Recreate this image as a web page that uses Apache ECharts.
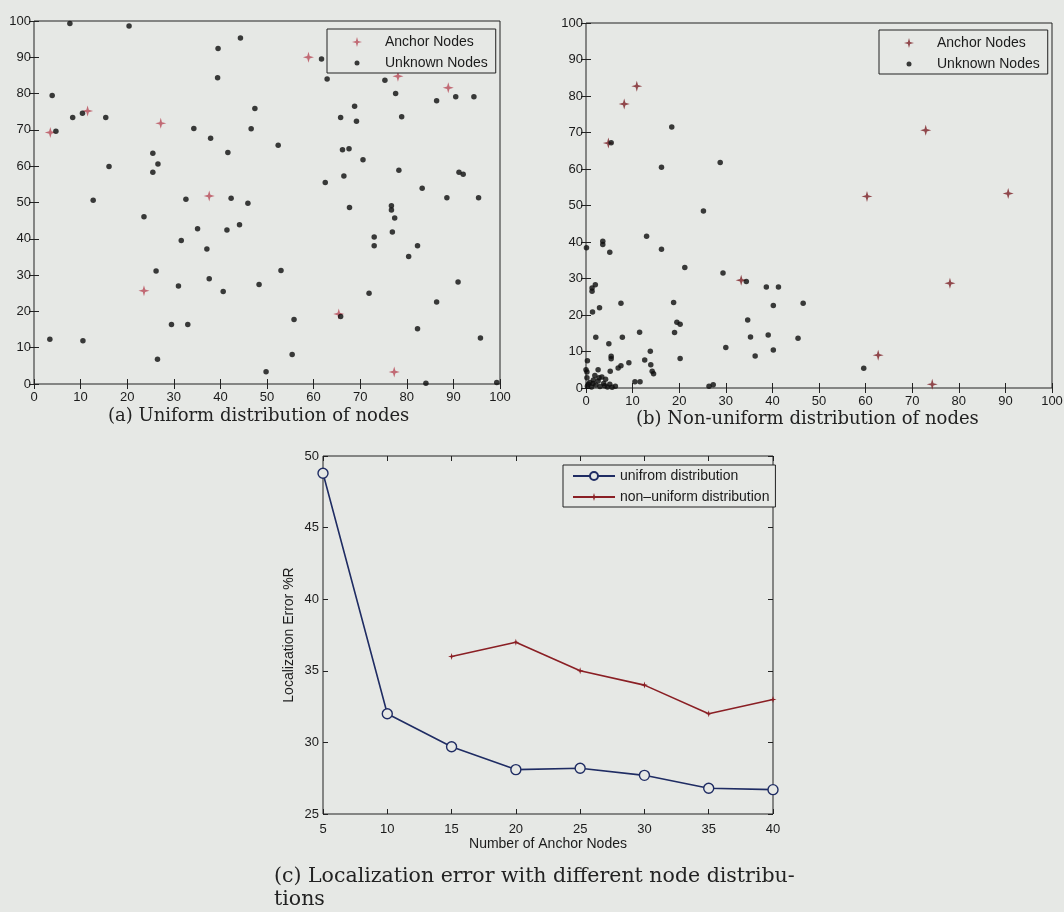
<!DOCTYPE html>
<html>
<head>
<meta charset="utf-8">
<script src="https://cdn.jsdelivr.net/npm/echarts@6/dist/echarts.min.js"></script>
<style>
    html, body { margin: 0; padding: 0; background: #e6e8e5; }
    #chart { width: 1064px; height: 912px; }
</style>
</head>
<body>
<div id="chart"></div>
<script>
    // (a) uniform distribution, [x, y]
    const uniformAnchors = [
        [3.5, 69.3], [11.5, 75.2], [27.2, 71.8], [37.6, 51.8], [23.6, 25.7],
        [58.9, 90.0], [78.1, 84.8], [88.9, 81.6], [65.4, 19.3], [77.3, 3.3]
    ];
    const uniformUnknown = [
        [7.7, 99.3], [20.4, 98.6], [44.3, 95.3], [39.5, 92.4], [39.4, 84.4], [3.9, 79.5],
        [47.4, 75.9], [10.4, 74.6], [8.3, 73.4], [15.4, 73.4], [34.3, 70.4], [46.6, 70.3],
        [4.7, 69.6], [37.9, 67.7], [25.5, 63.6], [41.6, 63.8], [26.6, 60.6], [16.1, 59.9],
        [25.5, 58.3], [12.7, 50.6], [32.6, 50.9], [42.3, 51.2], [45.9, 49.8], [61.7, 89.5],
        [62.9, 84.0], [75.3, 83.7], [77.6, 80.0], [86.4, 78.0], [90.5, 79.1], [94.4, 79.1],
        [68.8, 76.5], [65.8, 73.4], [69.2, 72.4], [78.9, 73.6], [52.4, 65.8], [66.2, 64.5],
        [67.6, 64.8], [70.6, 61.8], [78.3, 58.9], [66.5, 57.3], [62.5, 55.5], [91.2, 58.3],
        [92.1, 57.8], [83.3, 53.9], [88.6, 51.3], [95.4, 51.3], [67.7, 48.6], [76.7, 49.1],
        [76.7, 47.9], [77.4, 45.7], [76.9, 41.9], [73.0, 40.5], [73.0, 38.1], [82.3, 38.1],
        [80.4, 35.1], [53.0, 31.3], [91.0, 28.1], [71.9, 25.0], [86.4, 22.6], [65.8, 18.6],
        [55.8, 17.8], [82.3, 15.2], [95.8, 12.7], [55.4, 8.1], [49.8, 3.4], [84.1, 0.2],
        [99.3, 0.4], [48.3, 27.4], [23.6, 46.1], [35.1, 42.8], [41.4, 42.4], [44.1, 43.9],
        [31.6, 39.5], [37.1, 37.2], [26.2, 31.1], [37.6, 29.0], [31.0, 27.0], [40.6, 25.5],
        [29.5, 16.4], [33.0, 16.4], [3.4, 12.3], [10.5, 11.9], [26.5, 6.8]
    ];

    // (b) non-uniform distribution, [x, y]
    const nonUniformAnchors = [
        [4.8, 67.1], [8.2, 77.8], [10.9, 82.7], [72.9, 70.6], [60.3, 52.5],
        [90.6, 53.3], [33.3, 29.5], [78.1, 28.7], [62.7, 9.0], [74.3, 1.0]
    ];
    const nonUniformUnknown = [
        [5.4, 67.2], [18.4, 71.5], [16.2, 60.5], [28.8, 61.8], [25.2, 48.5],
        [0.1, 38.4], [3.6, 40.2], [3.6, 39.3], [5.1, 37.2], [13.0, 41.6], [16.2, 38.0],
        [21.2, 33.0], [29.4, 31.5], [34.4, 29.2], [38.7, 27.7], [41.3, 27.7],
        [2.0, 28.3], [1.3, 27.4], [1.3, 26.5], [2.9, 22.0], [1.4, 20.8], [7.5, 23.2],
        [18.8, 23.4], [46.6, 23.2], [40.2, 22.6], [19.5, 18.0], [20.2, 17.5], [34.7, 18.6],
        [19.0, 15.2], [11.5, 15.3], [2.1, 13.9], [7.8, 13.9], [35.3, 14.0], [39.1, 14.5],
        [45.5, 13.6], [4.9, 12.1], [13.8, 10.1], [30.0, 11.1], [40.2, 10.4], [5.4, 8.7],
        [5.4, 8.0], [20.2, 8.1], [36.3, 8.8], [0.3, 7.5], [12.6, 7.7], [13.9, 6.4],
        [14.2, 4.6], [14.5, 3.9], [9.2, 6.9], [7.5, 6.1], [6.9, 5.5], [5.2, 4.6],
        [2.6, 5.0], [0.0, 5.0], [0.2, 4.4], [59.6, 5.4], [10.5, 1.7], [11.6, 1.7],
        [26.4, 0.5], [27.3, 0.9],
        [0.3, 0.5], [0.8, 1.5], [1.2, 0.3], [1.6, 2.2], [2.1, 0.8], [2.6, 1.9],
        [3.0, 0.4], [3.4, 3.0], [3.8, 1.2], [4.2, 2.4], [4.6, 0.3], [5.1, 1.0],
        [5.6, 0.2], [0.2, 2.8], [1.9, 3.4], [6.3, 0.5], [2.8, 2.8], [4.0, 0.6],
        [0.5, 1.0], [1.5, 1.2]
    ];

    // (c) localization error
    const anchorCounts = [5, 10, 15, 20, 25, 30, 35, 40];
    const errUniform = [48.8, 32.0, 29.7, 28.1, 28.2, 27.7, 26.8, 26.7];
    const nonUniformCounts = [15, 20, 25, 30, 35, 40];
    const errNonUniform = [36.0, 37.0, 35.0, 34.0, 32.0, 33.0];

    const BG = '#e6e8e5';
    const INK = '#1b1b1b';
    const STAR = 'path://M0,-10L2.2,-2.2L10,0L2.2,2.2L0,10L-2.2,2.2L-10,0L-2.2,-2.2Z';
    // same shapes padded with move-tos so the legend draws them small
    const STAR_ICON = 'path://M-14,-14M14,14M0,-10L2.2,-2.2L10,0L2.2,2.2L0,10L-2.2,2.2L-10,0L-2.2,-2.2Z';
    const DOT_ICON = 'path://M-7,-7M7,7M0,-2.5A2.5,2.5,0,1,1,0,2.5A2.5,2.5,0,1,1,0,-2.5Z';

    function axis (grid, pos, min, max, step, showLabel, margin) {
        return {
            type: 'value',
            gridIndex: grid,
            position: pos,
            min: min,
            max: max,
            interval: step,
            axisLine: { show: false },
            splitLine: { show: false },
            axisTick: { show: true, inside: true, length: 5, lineStyle: { color: '#222', width: 1 } },
            axisLabel: {
                show: showLabel,
                margin: margin,
                color: INK,
                fontFamily: 'Liberation Sans',
                fontSize: 13
            }
        };
    }

    function gridBox (left, top, width, height) {
        return {
            left: left, top: top, width: width, height: height,
            containLabel: false,
            outerBoundsMode: 'none',
            show: true,
            backgroundColor: 'transparent',
            borderColor: '#222',
            borderWidth: 1
        };
    }

    function nodeLegend (left, top, names) {
        return {
            orient: 'vertical',
            left: left,
            top: top,
            padding: [6, 8, 3, 23],
            itemWidth: 46,
            itemHeight: 14,
            itemGap: 7,
            borderColor: '#222',
            borderWidth: 1,
            borderRadius: 0,
            backgroundColor: BG,
            textStyle: { color: INK, fontFamily: 'Liberation Sans', fontSize: 14 },
            formatter: function (n) { return n.replace(' (b)', ''); },
            data: [
                { name: names[0], icon: STAR_ICON },
                { name: names[1], icon: DOT_ICON }
            ]
        };
    }

    const chart = echarts.init(document.getElementById('chart'));

    const option = {
        backgroundColor: BG,
        animation: false,
        grid: [
            gridBox(34, 21, 466, 363),
            gridBox(586, 23, 466, 365),
            gridBox(323, 456, 450, 358)
        ],
        xAxis: [
            axis(0, 'bottom', 0, 100, 10, true, 7),
            axis(0, 'top', 0, 100, 10, false, 7),
            axis(1, 'bottom', 0, 100, 10, true, 7),
            axis(1, 'top', 0, 100, 10, false, 7),
            Object.assign(axis(2, 'bottom', 5, 40, 5, true, 9), {
                name: 'Number of Anchor Nodes',
                nameLocation: 'middle',
                nameGap: 22,
                nameTextStyle: { color: INK, fontFamily: 'Liberation Sans', fontSize: 14 }
            }),
            axis(2, 'top', 5, 40, 5, false, 7)
        ],
        yAxis: [
            axis(0, 'left', 0, 100, 10, true, 3),
            axis(0, 'right', 0, 100, 10, false, 3),
            axis(1, 'left', 0, 100, 10, true, 3),
            axis(1, 'right', 0, 100, 10, false, 3),
            Object.assign(axis(2, 'left', 25, 50, 5, true, 4), {
                name: 'Localization Error %R',
                nameLocation: 'middle',
                nameGap: 27,
                nameTextStyle: { color: INK, fontFamily: 'Liberation Sans', fontSize: 14 }
            }),
            axis(2, 'right', 25, 50, 5, false, 3)
        ],
        legend: [
            nodeLegend(327, 29, ['Anchor Nodes', 'Unknown Nodes']),
            nodeLegend(879, 30, ['Anchor Nodes (b)', 'Unknown Nodes (b)']),
            {
                orient: 'vertical',
                left: 563,
                top: 465,
                padding: [4, 6, 3, 9],
                itemWidth: 42,
                itemHeight: 10,
                itemGap: 7,
                borderColor: '#222',
                borderWidth: 1,
                borderRadius: 0,
                backgroundColor: BG,
                textStyle: { color: INK, fontFamily: 'Liberation Sans', fontSize: 14 },
                data: ['unifrom distribution', 'non–uniform distribution']
            }
        ],
        series: [
            {
                name: 'Anchor Nodes',
                type: 'scatter',
                xAxisIndex: 0,
                yAxisIndex: 0,
                symbol: STAR,
                symbolSize: 11,
                itemStyle: { color: '#b84a57' },
                data: uniformAnchors
            },
            {
                name: 'Unknown Nodes',
                type: 'scatter',
                xAxisIndex: 0,
                yAxisIndex: 0,
                symbol: 'circle',
                symbolSize: 5.5,
                itemStyle: { color: '#0d0d0d' },
                data: uniformUnknown
            },
            {
                name: 'Anchor Nodes (b)',
                type: 'scatter',
                xAxisIndex: 2,
                yAxisIndex: 2,
                symbol: STAR,
                symbolSize: 11,
                itemStyle: { color: '#7a1e24' },
                data: nonUniformAnchors
            },
            {
                name: 'Unknown Nodes (b)',
                type: 'scatter',
                xAxisIndex: 2,
                yAxisIndex: 2,
                symbol: 'circle',
                symbolSize: 5.5,
                itemStyle: { color: '#0d0d0d' },
                data: nonUniformUnknown
            },
            {
                name: 'unifrom distribution',
                type: 'line',
                xAxisIndex: 4,
                yAxisIndex: 4,
                symbol: 'circle',
                symbolSize: 10,
                showAllSymbol: true,
                lineStyle: { color: '#1f2c63', width: 1.6 },
                itemStyle: { color: BG, borderColor: '#1f2c63', borderWidth: 1.4 },
                data: anchorCounts.map((n, i) => [n, errUniform[i]])
            },
            {
                name: 'non–uniform distribution',
                type: 'line',
                xAxisIndex: 4,
                yAxisIndex: 4,
                symbol: STAR,
                symbolSize: 7,
                showAllSymbol: true,
                lineStyle: { color: '#8a1f24', width: 1.6 },
                itemStyle: { color: '#8a1f24' },
                data: nonUniformCounts.map((n, i) => [n, errNonUniform[i]])
            }
        ],
        graphic: [
            {
                type: 'text', left: 108, top: 407,
                style: { text: '(a) Uniform distribution of nodes', font: '18px "DejaVu Serif"', fill: '#222' }
            },
            {
                type: 'text', left: 636, top: 410,
                style: { text: '(b) Non-uniform distribution of nodes', font: '18px "DejaVu Serif"', fill: '#222' }
            },
            {
                type: 'text', left: 274, top: 866,
                style: { text: '(c) Localization error with different node distribu-', font: '20.5px "DejaVu Serif"', fill: '#222' }
            },
            {
                type: 'text', left: 274, top: 889,
                style: { text: 'tions', font: '20.5px "DejaVu Serif"', fill: '#222' }
            }
        ]
    };

    chart.setOption(option);
</script>
</body>
</html>
